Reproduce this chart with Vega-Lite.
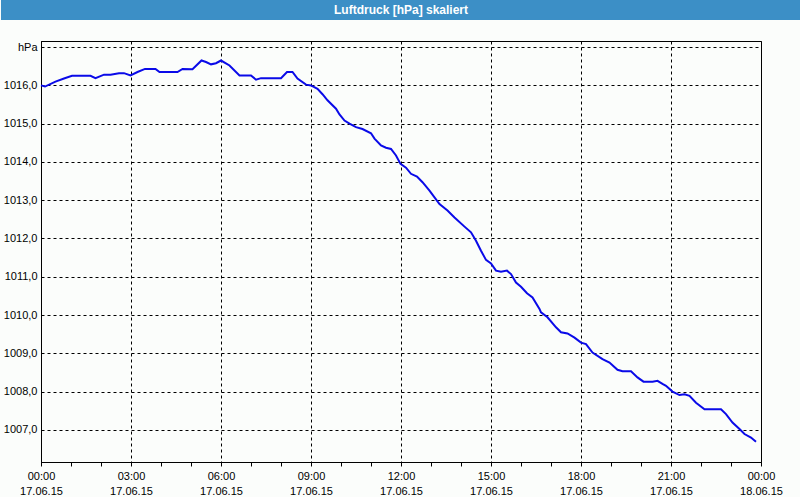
{
  "$schema": "https://vega.github.io/schema/vega-lite/v6.json",
  "background": "#fbfdfb",
  "padding": 0,
  "spacing": 20,
  "config": {
    "font": "Liberation Sans",
    "view": {"stroke": "#000000", "strokeWidth": 1}
  },
  "vconcat": [
    {
      "width": 800,
      "height": 20,
      "view": {"fill": "#3c8fc6", "stroke": null},
      "data": {"values": [{"label": "Luftdruck [hPa] skaliert"}]},
      "mark": {"type": "text", "font": "Liberation Sans", "fontSize": 12, "fontWeight": "bold", "color": "#ffffff", "align": "center", "baseline": "middle"},
      "encoding": {"text": {"field": "label", "type": "nominal"}}
    },
    {
      "hconcat": [
        {
          "width": 40,
          "height": 421,
          "view": {"stroke": null},
          "data": {"values": []},
          "mark": "point",
          "encoding": {}
        },
        {
          "width": 720,
          "height": 421,
          "data": {"values": [
            {"t": "2015-06-17T00:00:00Z", "p": 1016.00},
            {"t": "2015-06-17T00:08:00Z", "p": 1015.97},
            {"t": "2015-06-17T00:29:00Z", "p": 1016.10},
            {"t": "2015-06-17T00:46:00Z", "p": 1016.18},
            {"t": "2015-06-17T01:02:00Z", "p": 1016.25},
            {"t": "2015-06-17T01:39:00Z", "p": 1016.25},
            {"t": "2015-06-17T01:49:00Z", "p": 1016.19},
            {"t": "2015-06-17T02:06:00Z", "p": 1016.28},
            {"t": "2015-06-17T02:19:00Z", "p": 1016.28},
            {"t": "2015-06-17T02:36:00Z", "p": 1016.32},
            {"t": "2015-06-17T02:46:00Z", "p": 1016.32},
            {"t": "2015-06-17T02:59:00Z", "p": 1016.26},
            {"t": "2015-06-17T03:13:00Z", "p": 1016.35},
            {"t": "2015-06-17T03:28:00Z", "p": 1016.43},
            {"t": "2015-06-17T03:49:00Z", "p": 1016.43},
            {"t": "2015-06-17T03:57:00Z", "p": 1016.35},
            {"t": "2015-06-17T04:33:00Z", "p": 1016.35},
            {"t": "2015-06-17T04:43:00Z", "p": 1016.43},
            {"t": "2015-06-17T05:03:00Z", "p": 1016.42},
            {"t": "2015-06-17T05:21:00Z", "p": 1016.65},
            {"t": "2015-06-17T05:30:00Z", "p": 1016.61},
            {"t": "2015-06-17T05:40:00Z", "p": 1016.55},
            {"t": "2015-06-17T05:50:00Z", "p": 1016.58},
            {"t": "2015-06-17T06:00:00Z", "p": 1016.65},
            {"t": "2015-06-17T06:17:00Z", "p": 1016.52},
            {"t": "2015-06-17T06:37:00Z", "p": 1016.26},
            {"t": "2015-06-17T07:00:00Z", "p": 1016.26},
            {"t": "2015-06-17T07:10:00Z", "p": 1016.15},
            {"t": "2015-06-17T07:20:00Z", "p": 1016.19},
            {"t": "2015-06-17T08:00:00Z", "p": 1016.19},
            {"t": "2015-06-17T08:12:00Z", "p": 1016.35},
            {"t": "2015-06-17T08:23:00Z", "p": 1016.35},
            {"t": "2015-06-17T08:33:00Z", "p": 1016.18},
            {"t": "2015-06-17T08:50:00Z", "p": 1016.02},
            {"t": "2015-06-17T09:00:00Z", "p": 1016.00},
            {"t": "2015-06-17T09:13:00Z", "p": 1015.91},
            {"t": "2015-06-17T09:23:00Z", "p": 1015.77},
            {"t": "2015-06-17T09:33:00Z", "p": 1015.61},
            {"t": "2015-06-17T09:50:00Z", "p": 1015.39},
            {"t": "2015-06-17T09:57:00Z", "p": 1015.24},
            {"t": "2015-06-17T10:07:00Z", "p": 1015.08},
            {"t": "2015-06-17T10:17:00Z", "p": 1015.00},
            {"t": "2015-06-17T10:30:00Z", "p": 1014.91},
            {"t": "2015-06-17T10:43:00Z", "p": 1014.86},
            {"t": "2015-06-17T11:00:00Z", "p": 1014.75},
            {"t": "2015-06-17T11:07:00Z", "p": 1014.61},
            {"t": "2015-06-17T11:20:00Z", "p": 1014.43},
            {"t": "2015-06-17T11:30:00Z", "p": 1014.37},
            {"t": "2015-06-17T11:40:00Z", "p": 1014.34},
            {"t": "2015-06-17T11:50:00Z", "p": 1014.17},
            {"t": "2015-06-17T11:59:00Z", "p": 1013.95},
            {"t": "2015-06-17T12:10:00Z", "p": 1013.85},
            {"t": "2015-06-17T12:20:00Z", "p": 1013.69},
            {"t": "2015-06-17T12:32:00Z", "p": 1013.62},
            {"t": "2015-06-17T12:43:00Z", "p": 1013.47},
            {"t": "2015-06-17T12:57:00Z", "p": 1013.25},
            {"t": "2015-06-17T13:17:00Z", "p": 1012.90},
            {"t": "2015-06-17T13:33:00Z", "p": 1012.73},
            {"t": "2015-06-17T13:47:00Z", "p": 1012.55},
            {"t": "2015-06-17T14:07:00Z", "p": 1012.31},
            {"t": "2015-06-17T14:20:00Z", "p": 1012.16},
            {"t": "2015-06-17T14:30:00Z", "p": 1011.94},
            {"t": "2015-06-17T14:40:00Z", "p": 1011.68},
            {"t": "2015-06-17T14:50:00Z", "p": 1011.44},
            {"t": "2015-06-17T15:00:00Z", "p": 1011.35},
            {"t": "2015-06-17T15:10:00Z", "p": 1011.16},
            {"t": "2015-06-17T15:20:00Z", "p": 1011.13},
            {"t": "2015-06-17T15:32:00Z", "p": 1011.16},
            {"t": "2015-06-17T15:40:00Z", "p": 1011.07},
            {"t": "2015-06-17T15:50:00Z", "p": 1010.85},
            {"t": "2015-06-17T16:00:00Z", "p": 1010.74},
            {"t": "2015-06-17T16:12:00Z", "p": 1010.57},
            {"t": "2015-06-17T16:23:00Z", "p": 1010.46},
            {"t": "2015-06-17T16:37:00Z", "p": 1010.16},
            {"t": "2015-06-17T16:40:00Z", "p": 1010.07},
            {"t": "2015-06-17T16:53:00Z", "p": 1009.94},
            {"t": "2015-06-17T17:10:00Z", "p": 1009.68},
            {"t": "2015-06-17T17:20:00Z", "p": 1009.55},
            {"t": "2015-06-17T17:33:00Z", "p": 1009.52},
            {"t": "2015-06-17T17:47:00Z", "p": 1009.41},
            {"t": "2015-06-17T18:00:00Z", "p": 1009.28},
            {"t": "2015-06-17T18:10:00Z", "p": 1009.24},
            {"t": "2015-06-17T18:23:00Z", "p": 1009.02},
            {"t": "2015-06-17T18:43:00Z", "p": 1008.85},
            {"t": "2015-06-17T18:57:00Z", "p": 1008.76},
            {"t": "2015-06-17T19:13:00Z", "p": 1008.57},
            {"t": "2015-06-17T19:23:00Z", "p": 1008.53},
            {"t": "2015-06-17T19:40:00Z", "p": 1008.53},
            {"t": "2015-06-17T19:53:00Z", "p": 1008.37},
            {"t": "2015-06-17T20:05:00Z", "p": 1008.26},
            {"t": "2015-06-17T20:23:00Z", "p": 1008.26},
            {"t": "2015-06-17T20:33:00Z", "p": 1008.28},
            {"t": "2015-06-17T20:43:00Z", "p": 1008.20},
            {"t": "2015-06-17T20:50:00Z", "p": 1008.15},
            {"t": "2015-06-17T21:03:00Z", "p": 1008.00},
            {"t": "2015-06-17T21:17:00Z", "p": 1007.91},
            {"t": "2015-06-17T21:27:00Z", "p": 1007.93},
            {"t": "2015-06-17T21:37:00Z", "p": 1007.89},
            {"t": "2015-06-17T21:50:00Z", "p": 1007.71},
            {"t": "2015-06-17T22:07:00Z", "p": 1007.54},
            {"t": "2015-06-17T22:40:00Z", "p": 1007.54},
            {"t": "2015-06-17T22:50:00Z", "p": 1007.41},
            {"t": "2015-06-17T23:03:00Z", "p": 1007.19},
            {"t": "2015-06-17T23:17:00Z", "p": 1007.02},
            {"t": "2015-06-17T23:27:00Z", "p": 1006.89},
            {"t": "2015-06-17T23:40:00Z", "p": 1006.80},
            {"t": "2015-06-17T23:50:00Z", "p": 1006.69}
          ]},
          "mark": {"type": "line", "color": "#0a0ae8", "strokeWidth": 2},
          "encoding": {
            "x": {
              "field": "t",
              "type": "temporal",
              "scale": {"type": "utc", "domain": [1434499200000, 1434585600000], "nice": false},
              "axis": {
                "title": null,
                "values": [1434499200000, 1434502800000, 1434506400000, 1434510000000, 1434513600000, 1434517200000, 1434520800000, 1434524400000, 1434528000000, 1434531600000, 1434535200000, 1434538800000, 1434542400000, 1434546000000, 1434549600000, 1434553200000, 1434556800000, 1434560400000, 1434564000000, 1434567600000, 1434571200000, 1434574800000, 1434578400000, 1434582000000, 1434585600000],
                "labelExpr": "utchours(datum.value) % 3 == 0 ? [utcFormat(datum.value, '%H:%M'), utcFormat(datum.value, '%d.%m.%y')] : ''",
                "labelOverlap": false,
                "labelFlush": false,
                "labelFontSize": 11,
                "labelColor": "#000000",
                "labelLineHeight": 15,
                "labelPadding": 4,
                "tickSize": 4,
                "tickColor": "#000000",
                "domainColor": "#000000",
                "grid": true,
                "gridColor": "#000000",
                "gridDash": [3, 3],
                "gridOpacity": {"condition": {"test": "utchours(datum.value) % 3 == 0", "value": 1}, "value": 0}
              }
            },
            "y": {
              "field": "p",
              "type": "quantitative",
              "scale": {"domain": [1006.16, 1017.16], "nice": false, "zero": false},
              "axis": {
                "title": null,
                "values": [1007, 1008, 1009, 1010, 1011, 1012, 1013, 1014, 1015, 1016, 1017],
                "labelExpr": "datum.value == 1017 ? 'hPa' : replace(format(datum.value, '.1f'), '.', ',')",
                "labelFontSize": 11,
                "labelColor": "#000000",
                "labelPadding": 4,
                "ticks": false,
                "domainColor": "#000000",
                "grid": true,
                "gridColor": "#000000",
                "gridDash": [3, 3],
                "minExtent": 40,
                "maxExtent": 40
              }
            }
          }
        }
      ],
      "spacing": 0,
      "bounds": "flush"
    }
  ]
}
